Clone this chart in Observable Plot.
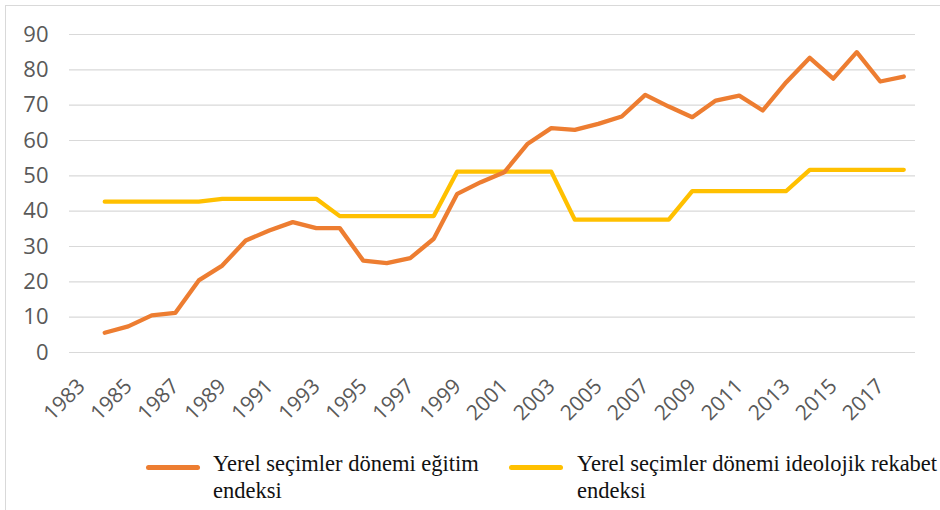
<!DOCTYPE html>
<html>
<head>
<meta charset="utf-8">
<script src="https://cdn.jsdelivr.net/npm/d3@7"></script>
<script src="https://cdn.jsdelivr.net/npm/@observablehq/plot@0.6"></script>
<style>
  html, body { margin: 0; padding: 0; background: #fff; }
  #wrap { position: relative; width: 940px; height: 510px; overflow: hidden; background: #fff; }
  #frame { position: absolute; left: 5px; top: 5px; width: 1000px; height: 1000px; border: 1px solid #D9D9D9; box-sizing: border-box; }
  #chart { position: absolute; left: 0; top: 0; }
  #chart svg { overflow: visible; }
  .sw { position: absolute; height: 5px; border-radius: 3px; }
  .lt { position: absolute; font-family: "Liberation Serif", "Times New Roman", serif; font-size: 22.5px; line-height: 27px; color: #111; white-space: nowrap; }
</style>
</head>
<body>
<div id="wrap">
  <div id="frame"></div>
  <div id="chart"></div>
  <div class="sw" style="left:146px; top:465px; width:54px; background:#ED7D31;"></div>
  <div class="lt" id="lab1" style="left:213px; top:450px;"></div>
  <div class="sw" style="left:509px; top:465px; width:54px; background:#FFC000;"></div>
  <div class="lt" id="lab2" style="left:577px; top:450px;"></div>
</div>
<script>
const years = [1983,1984,1985,1986,1987,1988,1989,1990,1991,1992,1993,1994,1995,1996,1997,1998,1999,2000,
  2001,2002,2003,2004,2005,2006,2007,2008,2009,2010,2011,2012,2013,2014,2015,2016,2017,2018];
const egitim = [null,5.6,7.4,10.5,11.2,20.4,24.6,31.7,34.5,36.9,35.2,35.2,26.0,25.3,26.7,32.2,44.9,48.2,
  51.0,59.1,63.5,63.0,64.7,66.8,72.9,69.6,66.6,71.3,72.7,68.5,76.5,83.4,77.5,85.0,76.7,78.1];
const ideoloji = [null,42.7,42.7,42.7,42.7,42.7,43.5,43.5,43.5,43.5,43.5,38.6,38.6,38.6,38.6,38.6,51.2,51.2,
  51.2,51.2,51.2,37.6,37.6,37.6,37.6,37.6,45.7,45.7,45.7,45.7,45.7,51.7,51.7,51.7,51.7,51.7];
const xTickLabels = [1983,1985,1987,1989,1991,1993,1995,1997,1999,2001,2003,2005,2007,2009,2011,2013,2015,2017];
const yTicks = [0,10,20,30,40,50,60,70,80,90];
const seriesNames = ["Yerel seçimler dönemi eğitim", "endeksi", "Yerel seçimler dönemi ideolojik rekabet", "endeksi"];

const rows = years.map((y, i) => ({year: y, egitim: egitim[i], ideoloji: ideoloji[i]}));

const chart = Plot.plot({
  width: 940,
  height: 440,
  marginLeft: 69,
  marginRight: 25,
  marginTop: 34,
  marginBottom: 88,
  style: {fontFamily: "'Open Sans', sans-serif", background: "transparent"},
  x: {type: "point", domain: years, padding: 0.5, round: false},
  y: {domain: [0, 90]},
  marks: [
    Plot.ruleY(yTicks, {stroke: "#D9D9D9", strokeWidth: 1.2}),
    Plot.axisY({ticks: yTicks, tickSize: 0, tickPadding: 21, fontSize: 22, fill: "#595959", label: null}),
    Plot.axisX({ticks: xTickLabels, tickSize: 0, label: null, text: null}),
    Plot.text(xTickLabels, {x: d => d, frameAnchor: "bottom", text: d => String(d), rotate: -45,
      textAnchor: "end", lineAnchor: "bottom", dx: 5, dy: 35, fontSize: 21, fill: "#595959"}),
    Plot.line(rows, {x: "year", y: "ideoloji", stroke: "#FFC000", strokeWidth: 4.3,
      strokeLinejoin: "round", strokeLinecap: "round"}),
    Plot.line(rows, {x: "year", y: "egitim", stroke: "#ED7D31", strokeWidth: 4.3,
      strokeLinejoin: "round", strokeLinecap: "round"})
  ]
});
document.getElementById("chart").appendChild(chart);
document.getElementById("lab1").innerHTML = seriesNames[0] + "<br>" + seriesNames[1];
document.getElementById("lab2").innerHTML = seriesNames[2] + "<br>" + seriesNames[3];
</script>
</body>
</html>
